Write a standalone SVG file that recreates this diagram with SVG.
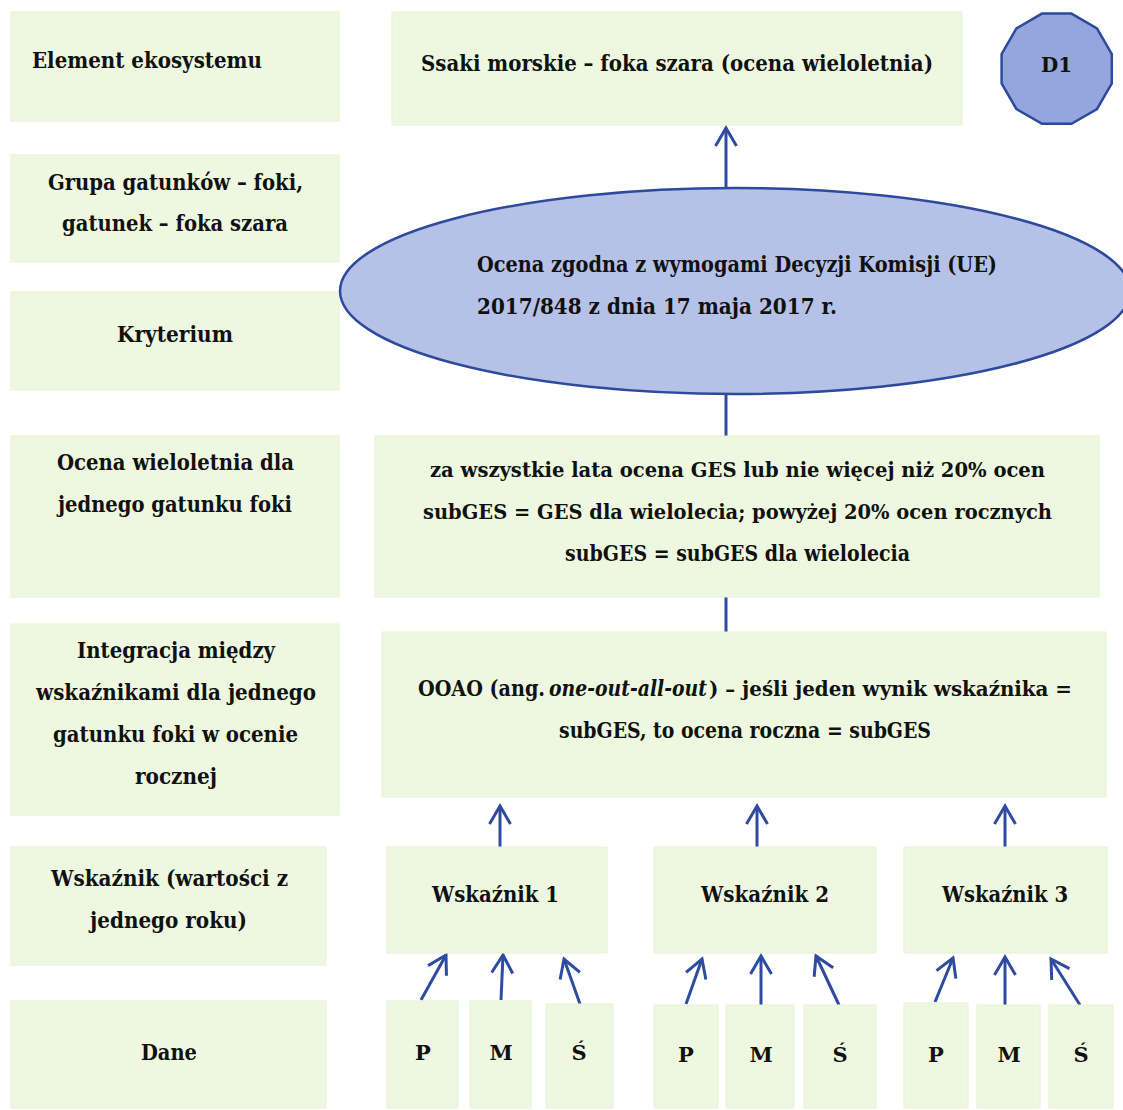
<svg xmlns="http://www.w3.org/2000/svg" width="1123" height="1110" viewBox="0 0 1123 1110">
<defs>
<style>
.box{fill:#EEF8E1;stroke:#E6F2D6;stroke-width:1}
.t{font-family:"DejaVu Serif","Liberation Serif",serif;font-weight:bold;font-size:22px;font-stretch:condensed;fill:#111}
.n{font-size:20.5px}
.s{font-family:"DejaVu Serif","Liberation Serif",serif;font-weight:bold;font-size:21px;fill:#111;text-anchor:middle}
.c{stroke:#2E4BA0;stroke-width:3;fill:none}
</style>
<marker id="ah" markerUnits="userSpaceOnUse" markerWidth="26" markerHeight="26" viewBox="-22 -13 26 26" refX="0" refY="0" orient="auto">
<path d="M-18,-10.5 L0,0 L-18,10.5" fill="none" stroke="#2E4BA0" stroke-width="3"/>
</marker>
</defs>
<rect width="1123" height="1110" fill="#fff"/>

<g id="lbl-element"><rect class="box" x="11" y="12" width="328" height="109"/><text class="t" x="32" y="68" textLength="230" lengthAdjust="spacingAndGlyphs">Element ekosystemu</text></g>
<g id="lbl-grupa"><rect class="box" x="11" y="155" width="328" height="107"/><text class="t" x="48" y="190" textLength="255" lengthAdjust="spacingAndGlyphs">Grupa gatunków – foki,</text><text class="t" x="62" y="231" textLength="226" lengthAdjust="spacingAndGlyphs">gatunek – foka szara</text></g>
<g id="lbl-kryterium"><rect class="box" x="11" y="292" width="328" height="98"/><text class="t" x="117" y="342" textLength="116" lengthAdjust="spacingAndGlyphs">Kryterium</text></g>
<g id="lbl-ocena"><rect class="box" x="11" y="436" width="328" height="161"/><text class="t" x="57" y="470" textLength="237" lengthAdjust="spacingAndGlyphs">Ocena wieloletnia dla</text><text class="t" x="58" y="512" textLength="234" lengthAdjust="spacingAndGlyphs">jednego gatunku foki</text></g>
<g id="lbl-integracja"><rect class="box" x="11" y="624" width="328" height="191"/><text class="t" x="77" y="658" textLength="198" lengthAdjust="spacingAndGlyphs">Integracja między</text><text class="t" x="36" y="700" textLength="280" lengthAdjust="spacingAndGlyphs">wskaźnikami dla jednego</text><text class="t" x="53" y="742" textLength="245" lengthAdjust="spacingAndGlyphs">gatunku foki w ocenie</text><text class="t" x="135" y="784" textLength="82" lengthAdjust="spacingAndGlyphs">rocznej</text></g>
<g id="lbl-wskaznik"><rect class="box" x="11" y="847" width="315" height="118"/><text class="t" x="51" y="886" textLength="237" lengthAdjust="spacingAndGlyphs">Wskaźnik (wartości z</text><text class="t" x="90" y="928" textLength="157" lengthAdjust="spacingAndGlyphs">jednego roku)</text></g>
<g id="lbl-dane"><rect class="box" x="11" y="1001" width="315" height="107"/><text class="t" x="141" y="1060" textLength="56" lengthAdjust="spacingAndGlyphs">Dane</text></g>

<g id="top"><rect class="box" x="392" y="12" width="570" height="113"/><text class="t" x="421" y="71" textLength="512" lengthAdjust="spacingAndGlyphs">Ssaki morskie – foka szara (ocena wieloletnia)</text></g>
<g id="d1"><polygon points="1071.5,13.6 1097,28.4 1111.8,54 1111.8,83.5 1097,109 1071.5,123.8 1042,123.8 1016.4,109 1001.6,83.5 1001.6,54 1016.4,28.4 1042,13.6" fill="#95A5DD" stroke="#2E4A9C" stroke-width="2.5"/><text class="s" x="1056.5" y="72" textLength="31" lengthAdjust="spacingAndGlyphs">D1</text></g>

<g id="connectors">
<line class="c" x1="726" y1="190" x2="726" y2="128" marker-end="url(#ah)"/>
<line class="c" x1="726" y1="390" x2="726" y2="436"/>
<line class="c" x1="726" y1="597" x2="726" y2="632"/>
<line class="c" x1="500" y1="847" x2="500" y2="806" marker-end="url(#ah)"/>
<line class="c" x1="757" y1="847" x2="757" y2="806" marker-end="url(#ah)"/>
<line class="c" x1="1005" y1="847" x2="1005" y2="806" marker-end="url(#ah)"/>
<line class="c" x1="421" y1="1000" x2="446" y2="955" marker-end="url(#ah)"/>
<line class="c" x1="501" y1="1000" x2="503" y2="955" marker-end="url(#ah)"/>
<line class="c" x1="580" y1="1004" x2="564" y2="959" marker-end="url(#ah)"/>
<line class="c" x1="686" y1="1004" x2="702" y2="959" marker-end="url(#ah)"/>
<line class="c" x1="761" y1="1005" x2="761" y2="956" marker-end="url(#ah)"/>
<line class="c" x1="839" y1="1005" x2="816" y2="956" marker-end="url(#ah)"/>
<line class="c" x1="935" y1="1002" x2="953" y2="958" marker-end="url(#ah)"/>
<line class="c" x1="1005" y1="1005" x2="1005" y2="957" marker-end="url(#ah)"/>
<line class="c" x1="1080" y1="1005" x2="1051" y2="959" marker-end="url(#ah)"/>
</g>

<g id="ellipse"><ellipse cx="735" cy="291" rx="395" ry="103" fill="#B6C1E8" stroke="#2E4A9C" stroke-width="2.5"/><text class="t" x="477" y="272" textLength="520" lengthAdjust="spacingAndGlyphs">Ocena zgodna z wymogami Decyzji Komisji (UE)</text><text class="t" x="477" y="314" textLength="360" lengthAdjust="spacingAndGlyphs">2017/848 z dnia 17 maja 2017 r.</text></g>

<g id="wieloletnia"><rect class="box" x="375" y="436" width="724" height="161"/><text class="t n" x="430" y="477" textLength="615" lengthAdjust="spacingAndGlyphs">za wszystkie lata ocena GES lub nie więcej niż 20% ocen</text><text class="t n" x="423" y="519" textLength="629" lengthAdjust="spacingAndGlyphs">subGES = GES dla wielolecia; powyżej 20% ocen rocznych</text><text class="t" x="565" y="561" textLength="345" lengthAdjust="spacingAndGlyphs">subGES = subGES dla wielolecia</text></g>

<g id="ooao"><rect class="box" x="382" y="632" width="724" height="165"/><text class="t" x="418" y="696" textLength="127" lengthAdjust="spacingAndGlyphs">OOAO (ang.</text><text class="t" x="549" y="696" textLength="158" lengthAdjust="spacingAndGlyphs" font-style="italic">one-out-all-out</text><text class="t n" x="709" y="696" textLength="363" lengthAdjust="spacingAndGlyphs">) – jeśli jeden wynik wskaźnika =</text><text class="t" x="559" y="738" textLength="372" lengthAdjust="spacingAndGlyphs">subGES, to ocena roczna = subGES</text></g>

<g id="w1"><rect class="box" x="387" y="847" width="220" height="106"/><text class="t" x="432" y="902" textLength="127" lengthAdjust="spacingAndGlyphs">Wskaźnik 1</text></g>
<g id="w2"><rect class="box" x="654" y="847" width="222" height="106"/><text class="t" x="701" y="902" textLength="128" lengthAdjust="spacingAndGlyphs">Wskaźnik 2</text></g>
<g id="w3"><rect class="box" x="904" y="847" width="203" height="106"/><text class="t" x="942" y="902" textLength="126" lengthAdjust="spacingAndGlyphs">Wskaźnik 3</text></g>

<g id="d-1p"><rect class="box" x="387" y="1001" width="71" height="107"/><text class="s" x="423" y="1060">P</text></g>
<g id="d-1m"><rect class="box" x="470" y="1001" width="61" height="107"/><text class="s" x="501" y="1060">M</text></g>
<g id="d-1s"><rect class="box" x="546" y="1004" width="67" height="104"/><text class="s" x="579" y="1060">Ś</text></g>
<g id="d-2p"><rect class="box" x="654" y="1005" width="64" height="103"/><text class="s" x="686" y="1062">P</text></g>
<g id="d-2m"><rect class="box" x="726" y="1005" width="68" height="103"/><text class="s" x="761" y="1062">M</text></g>
<g id="d-2s"><rect class="box" x="804" y="1005" width="72" height="103"/><text class="s" x="840" y="1062">Ś</text></g>
<g id="d-3p"><rect class="box" x="904" y="1003" width="64" height="105"/><text class="s" x="936" y="1062">P</text></g>
<g id="d-3m"><rect class="box" x="977" y="1005" width="63" height="103"/><text class="s" x="1009" y="1062">M</text></g>
<g id="d-3s"><rect class="box" x="1049" y="1005" width="64" height="103"/><text class="s" x="1081" y="1062">Ś</text></g>
</svg>
